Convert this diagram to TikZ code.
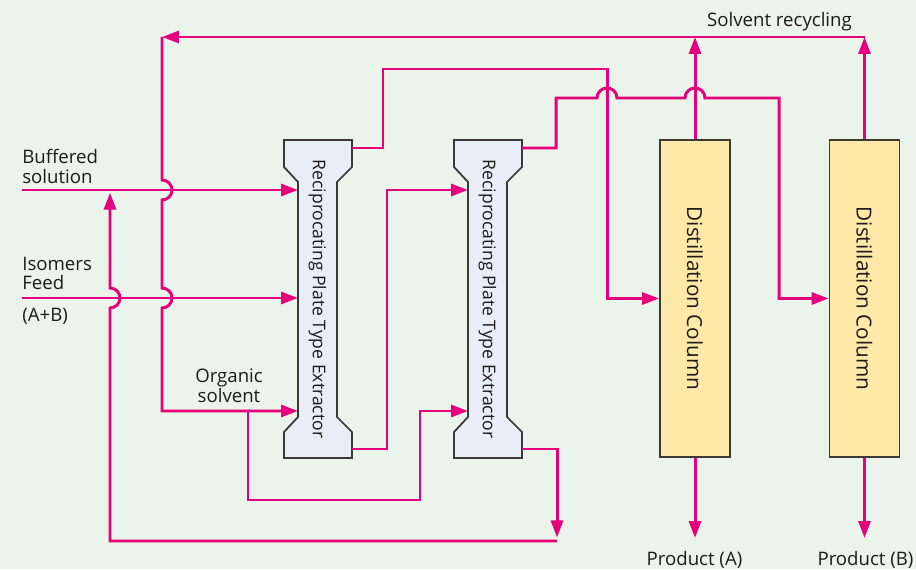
\documentclass[tikz,border=0pt]{standalone}
\usepackage{fontspec}
\setmainfont{Open Sans}
\usepackage{graphicx}
\usetikzlibrary{arrows.meta}

\definecolor{bgc}{RGB}{235,244,234}
\definecolor{flowc}{RGB}{230,0,126}
\definecolor{extc}{RGB}{231,238,248}
\definecolor{colc}{RGB}{255,233,168}
\definecolor{edgec}{RGB}{60,56,54}
\definecolor{txtc}{RGB}{30,26,27}

\tikzset{
    flow/.style={draw=flowc, line width=1.7pt},
    flowarr/.style={flow, -{Triangle[length=0.34cm,width=0.24cm]}},
    vessel/.style={draw=edgec, line width=1pt, fill=extc},
    column/.style={draw=edgec, line width=1pt, fill=colc, minimum width=1.4cm,
        minimum height=6.34cm, inner sep=0pt},
    lbl/.style={text=txtc, inner sep=0pt, font=\fontsize{10.6}{11.2}\selectfont},
}

\begin{document}
\begin{tikzpicture}[x=0.02cm, y=0.02cm]
    % background
    \fill[bgc] (0,0) rectangle (916,569);
    \useasboundingbox (0,0) rectangle (916,569);

    % extractors
    \foreach \n/\L in {ex1/284, ex2/454} {
        \draw[vessel] (\L,111) -- ++(68,0) -- ++(0,26) -- ++(-15,15) -- ++(0,235)
            -- ++(15,15) -- ++(0,27) -- ++(-68,0) -- ++(0,-27) -- ++(14,-15)
            -- ++(0,-235) -- ++(-14,-15) -- cycle;
        \node[lbl, rotate=-90, font=\fontsize{10}{12}\selectfont] (\n-txt) at ({\L+33.5},270) {Reciprocating Plate Type Extractor};
        \coordinate (\n-in1) at ({\L+14},379);
        \coordinate (\n-in2) at ({\L+14},271);
        \coordinate (\n-in3) at ({\L+14},158);
        \coordinate (\n-outT) at ({\L+68},421);
        \coordinate (\n-outB) at ({\L+68},120);
    }

    % distillation columns
    \node[column] (colA) at (695,270.5) {\rotatebox{-90}{\color{txtc}\fontsize{11.8}{13}\selectfont Distillation Column}};
    \node[column] (colB) at (864.5,270.5) {\rotatebox{-90}{\color{txtc}\fontsize{11.8}{13}\selectfont Distillation Column}};

    % labels
    \node[lbl, anchor=west, align=left] (buf) at (22,402.5) {Buffered\\solution};
    \node[lbl, anchor=west, align=left] (feed) at (22,295.5) {Isomers\\Feed};
    \node[lbl, anchor=west] (ab) at (22,253) {(A+B)};
    \node[lbl, align=center] (org) at (229,183) {Organic\\solvent};
    \node[lbl] (rec) at (779.5,547) {Solvent recycling};
    \node[lbl] (prodA) at (694.5,9) {Product (A)};
    \node[lbl] (prodB) at (865.5,9) {Product (B)};

    % feed lines
    \coordinate (bufin) at (22,379);
    \coordinate (feedin) at (22,271);
    \draw[flowarr] (bufin) -- (ex1-in1);
    \draw[flowarr] (feedin) -- (ex1-in2);

    % solvent recycling
    \coordinate (topR) at (864.5,532);
    \coordinate (topA) at (695,532);
    \coordinate (topL) at (162,532);
    \draw[flowarr] (colB.north) -- (topR);
    \draw[flowarr] (colA.north) -- (topA);
    \draw[flowarr] (topR) -- (topL);
    \draw[flowarr] (topL) -- (162,389) arc[start angle=90, end angle=-90, radius=10]
        -- (162,281) arc[start angle=90, end angle=-90, radius=10]
        |- (ex1-in3);

    % organic solvent to second extractor
    \coordinate (orgsplit) at (248,158);
    \draw[flowarr] (orgsplit) -- (248,69) -- (420,69) |- (ex2-in3);

    % extract of first extractor to column A
    \draw[flowarr] (ex1-outT) -- (383,421) -- (383,500) -- (607,500) |- (colA.west);

    % raffinate of first extractor to second extractor
    \draw[flowarr] (ex1-outB) -- (387,120) |- (ex2-in1);

    % extract of second extractor to column B
    \draw[flowarr] (ex2-outT) -- (556,421) -- (556,471) -- (597,471)
        arc[start angle=180, end angle=0, radius=10] -- (685,471)
        arc[start angle=180, end angle=0, radius=10] -- (779,471) |- (colB.west);

    % raffinate of second extractor back to the buffer line
    \coordinate (ret) at (557,28);
    \coordinate (retup) at (110,379);
    \draw[flowarr, shorten >=2pt] (ex2-outB) -| (ret);
    \draw[flowarr, shorten >=1.5pt] (ret) -- (110,28) -- (110,261)
        arc[start angle=-90, end angle=90, radius=10] -- (retup);

    % products
    \draw[flowarr] (colA.south) -- (695,31);
    \draw[flowarr] (colB.south) -- (864.5,31);
\end{tikzpicture}
\end{document}
